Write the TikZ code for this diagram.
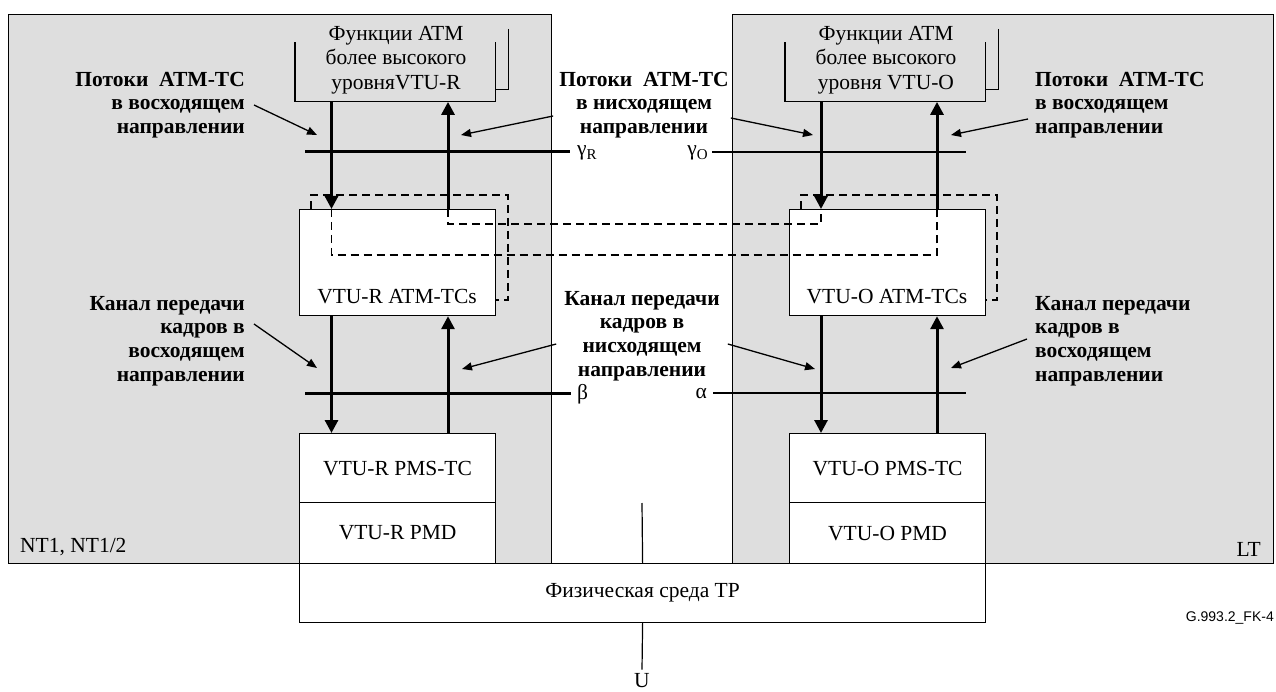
\documentclass[tikz,border=0pt]{standalone}
\usepackage{fontspec}
\setmainfont{Liberation Serif}
\newfontfamily\tagfont{Liberation Sans}
\usetikzlibrary{arrows.meta}
\definecolor{panelgray}{RGB}{222,222,222}
\newcommand\lowidx[1]{\raisebox{-0.4ex}{\fontsize{15}{15}\selectfont #1}}
\tikzset{
  panel/.style={draw, fill=panelgray, line width=1.2pt, inner sep=0pt, anchor=north west},
  blk/.style={draw, fill=white, line width=1.2pt, inner sep=0pt, anchor=north west, font=\fontsize{21.5}{24.5}\selectfont},
  txt/.style={font=\fontsize{21.5}{24.5}\selectfont, inner sep=0pt},
  lbl/.style={font=\fontsize{21.5}{23.8}\selectfont\bfseries, inner sep=0pt},
  flow/.style={line width=3pt, -{Triangle[length=13pt,width=13pt]}},
  ptr/.style={line width=1.3pt, -{Triangle[length=10pt,width=8pt]}},
  dashloop/.style={dash pattern=on 8pt off 5pt, line width=1.2pt},
  refpt/.style={line width=3pt},
  thinref/.style={line width=1.2pt},
}
\begin{document}
\begin{tikzpicture}[x=1pt, y=-1pt]
  \useasboundingbox (0,0) rectangle (1276,692);
  % the two sides
  \node[panel, minimum width=543, minimum height=549] (nt) at (8,14) {};
  \node[panel, minimum width=541, minimum height=549] (lt) at (732,14) {};
  \node[txt, anchor=west] (ntlab) at (20,547) {NT1, NT1/2};
  \node[txt, anchor=east] (ltlab) at (1261,549) {LT};

  % higher ATM functions
  \node[minimum width=200, minimum height=59, inner sep=0pt, anchor=north west] (atmR) at (295,42.5) {};
  \node[minimum width=200, minimum height=59, inner sep=0pt, anchor=north west] (atmO) at (785,42.5) {};
  \draw[thinref] (atmR.north west) |- (atmR.south east) -- (atmR.north east);
  \draw[thinref] ([shift={(13,-13.5)}]atmR.north east) |- ([shift={(0,-12)}]atmR.south east);
  \draw[thinref] (atmO.north west) |- (atmO.south east) -- (atmO.north east);
  \draw[thinref] ([shift={(13,-13.5)}]atmO.north east) |- ([shift={(0,-12)}]atmO.south east);
  \node[txt, align=center] (atmRt) at (396,60) {Функции ATM\\более высокого\\уровняVTU-R};
  \node[txt, align=center] (atmOt) at (886,60) {Функции ATM\\более высокого\\уровня VTU-O};

  % ATM-TC, PMS-TC, PMD
  \node[blk, minimum width=196, minimum height=106] (tcR) at (299,209) {};
  \node[blk, minimum width=196, minimum height=106] (tcO) at (789,209) {};
  \node[txt] (tcRt) at (397,297) {VTU-R ATM-TCs};
  \node[txt] (tcOt) at (887,297) {VTU-O ATM-TCs};
  \node[blk, minimum width=196, minimum height=69] (pmsR) at (299,433) {VTU-R PMS-TC};
  \node[blk, minimum width=196, minimum height=61] (pmdR) at (299,502) {VTU-R PMD};
  \node[blk, minimum width=196, minimum height=69] (pmsO) at (789,433) {VTU-O PMS-TC};
  \node[blk, minimum width=196, minimum height=61] (pmdO) at (789,502) {VTU-O PMD};
  \node[blk, minimum width=686, minimum height=59] (phys) at (299,563) {Физическая среда TP};

  % dashed loops
  \draw[dashloop] (311,209) |- (508,195) |- (495,300);
  \draw[dashloop] (801,209) |- (997,195) |- (985,300);
  \draw[dashloop] (331.5,209) |- (937,255) -- (937,209);
  \draw[dashloop] (448,209) |- (821,224) -- (821,209);

  % data flows
  \coordinate (xdR) at (331.5,0);
  \coordinate (xuR) at (448,0);
  \coordinate (xdO) at (821,0);
  \coordinate (xuO) at (937,0);
  \draw[flow] (atmR.south -| xdR) -- (tcR.north -| xdR);
  \draw[flow] (tcR.north -| xuR) -- (atmR.south -| xuR);
  \draw[flow] (tcR.south -| xdR) -- (pmsR.north -| xdR);
  \draw[flow] (pmsR.north -| xuR) -- (tcR.south -| xuR);
  \draw[flow] (atmO.south -| xdO) -- (tcO.north -| xdO);
  \draw[flow] (tcO.north -| xuO) -- (atmO.south -| xuO);
  \draw[flow] (tcO.south -| xdO) -- (pmsO.north -| xdO);
  \draw[flow] (pmsO.north -| xuO) -- (tcO.south -| xuO);

  % reference points
  \node[txt, anchor=west] (gR) at (577,153) {γ\lowidx{R}};
  \node[txt, anchor=east] (gO) at (708,153) {γ\lowidx{O}};
  \node[txt, anchor=west] (be) at (577,394) {β};
  \node[txt, anchor=east] (al) at (707,394) {α};
  \coordinate (gRend) at (305,152);
  \coordinate (gOend) at (966,152);
  \coordinate (beend) at (305,393);
  \coordinate (alend) at (966,393);
  \draw[refpt] (gRend) -- (gRend -| 570,0);
  \draw[thinref] (gOend -| 712,0) -- (gOend);
  \draw[refpt] (beend) -- (beend -| 571,0);
  \draw[thinref] (alend -| 713,0) -- (alend);

  % U interface
  \coordinate (umid) at (642,503);
  \node[txt] (U) at (642,681) {U};
  \draw[thinref] (umid) -- (phys.north);
  \draw[thinref] (phys.south) -- ([yshift=4pt]U.north);
  \node[font=\tagfont\fontsize{14}{14}\selectfont, anchor=east, inner sep=0pt] (tag) at (1274,618) {G.993.2\_FK-4};

  % labels
  \node[lbl, align=right, anchor=east] (upR) at (245,105) {Потоки\ \ ATM-TC\\в восходящем\\направлении};
  \node[lbl, align=center] (dnA) at (644,105) {Потоки\ \ ATM-TC\\в нисходящем\\направлении};
  \node[lbl, align=left, anchor=west] (upO) at (1035,105) {Потоки\ \ ATM-TC\\в восходящем\\направлении};
  \node[lbl, align=right, anchor=east] (frR) at (245,341) {Канал передачи\\кадров в\\восходящем\\направлении};
  \node[lbl, align=center] (dnF) at (642,336) {Канал передачи\\кадров в\\нисходящем\\направлении};
  \node[lbl, align=left, anchor=west] (frO) at (1035,341) {Канал передачи\\кадров в\\восходящем\\направлении};
  \coordinate (t1) at (317,135);
  \coordinate (t2) at (461,135);
  \coordinate (t3) at (813,135);
  \coordinate (t4) at (951,135);
  \coordinate (t5) at (317,368);
  \coordinate (t6) at (462,369);
  \coordinate (t7) at (815,369);
  \coordinate (t8) at (951,368);
  \draw[ptr] ([shift={(9,0)}]upR.east) -- (t1);
  \draw[ptr] ([shift={(-6,11)}]dnA.west) -- (t2);
  \draw[ptr] ([shift={(2,13)}]dnA.east) -- (t3);
  \draw[ptr] ([shift={(-7,14)}]upO.west) -- (t4);
  \draw[ptr] ([shift={(9,-17)}]frR.east) -- (t5);
  \draw[ptr] ([shift={(-8,8)}]dnF.west) -- (t6);
  \draw[ptr] ([shift={(8,8)}]dnF.east) -- (t7);
  \draw[ptr] ([shift={(-8,-2)}]frO.west) -- (t8);
\end{tikzpicture}
\end{document}
